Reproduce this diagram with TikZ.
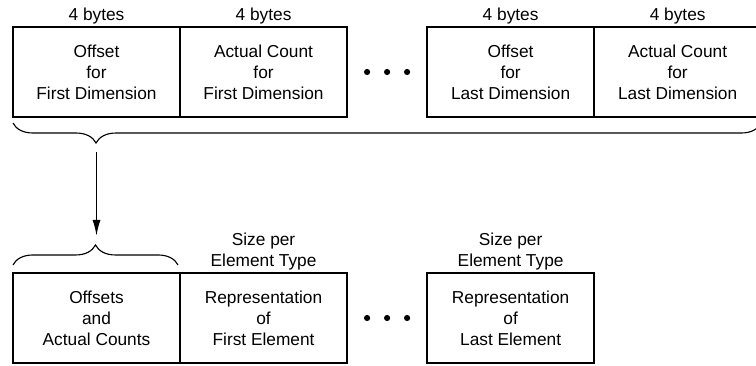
\documentclass[tikz,border=0pt]{standalone}
\usepackage{fontspec}
\setmainfont{Liberation Sans}
\usetikzlibrary{arrows.meta,positioning,calc,decorations.pathreplacing}

\begin{document}
\begin{tikzpicture}[x=0.025cm, y=-0.025cm, font=\fontsize{12.3}{14.9}\selectfont,
  cell/.style={draw, line width=1.8pt, minimum width=4.175cm, minimum height=2.25cm,
    align=center, inner sep=1pt, outer sep=0pt},
  size/.style={align=center, inner sep=2pt},
  brc/.style={decorate, line width=0.8pt, decoration={brace, amplitude=0.5cm}}]

\useasboundingbox (0,0) rectangle (756,366);
\clip (0,0) rectangle (756,366);

% ---------- conformance info (top row) ----------
\node[cell] (off1) at (96.5,72) {Offset\\for\\First Dimension};
\node[cell, right=0pt of off1] (cnt1) {Actual Count\\for\\First Dimension};
\node[cell, right=2cm of cnt1] (offN) {Offset\\for\\Last Dimension};
\node[cell, right=0pt of offN] (cntN) {Actual Count\\for\\Last Dimension};
\foreach \n in {off1,cnt1,offN,cntN}
  \node[size, above=0pt of \n] (\n-sz) {4 bytes};
\foreach \dx in {-20,0,20}
  \fill ($(cnt1.east)!0.5!(offN.west)+(\dx,0)$) circle[radius=2.2pt];

% ---------- array data (bottom row) ----------
\node[cell] (rest) at (96.5,318) {Offsets\\and\\Actual Counts};
\node[cell, right=0pt of rest] (elem1) {Representation\\of\\First Element};
\node[cell, right=2cm of elem1] (elemN) {Representation\\of\\Last Element};
\foreach \n in {elem1,elemN}
  \node[size, above=0pt of \n] (\n-sz) {Size per\\Element Type};
\foreach \dx in {-20,0,20}
  \fill ($(elem1.east)!0.5!(elemN.west)+(\dx,0)$) circle[radius=2.2pt];

% ---------- braces and arrow ----------
\draw[brc, decoration={mirror, aspect=0.111}]
  ($(off1.south west)+(0,6)$) -- ($(cntN.south east)+(0,6)$);
\draw[brc] ($(rest.north west)+(0,-8)$) -- ($(rest.north east)+(-2,-8)$);
\coordinate (from) at ($(off1.south)+(0,35)$);
\coordinate (to) at ($(rest.north)+(0,-37)$);
\draw[-{Latex[length=4mm,width=2mm]}, line width=1.2pt] (from) -- (to);
\end{tikzpicture}
\end{document}
